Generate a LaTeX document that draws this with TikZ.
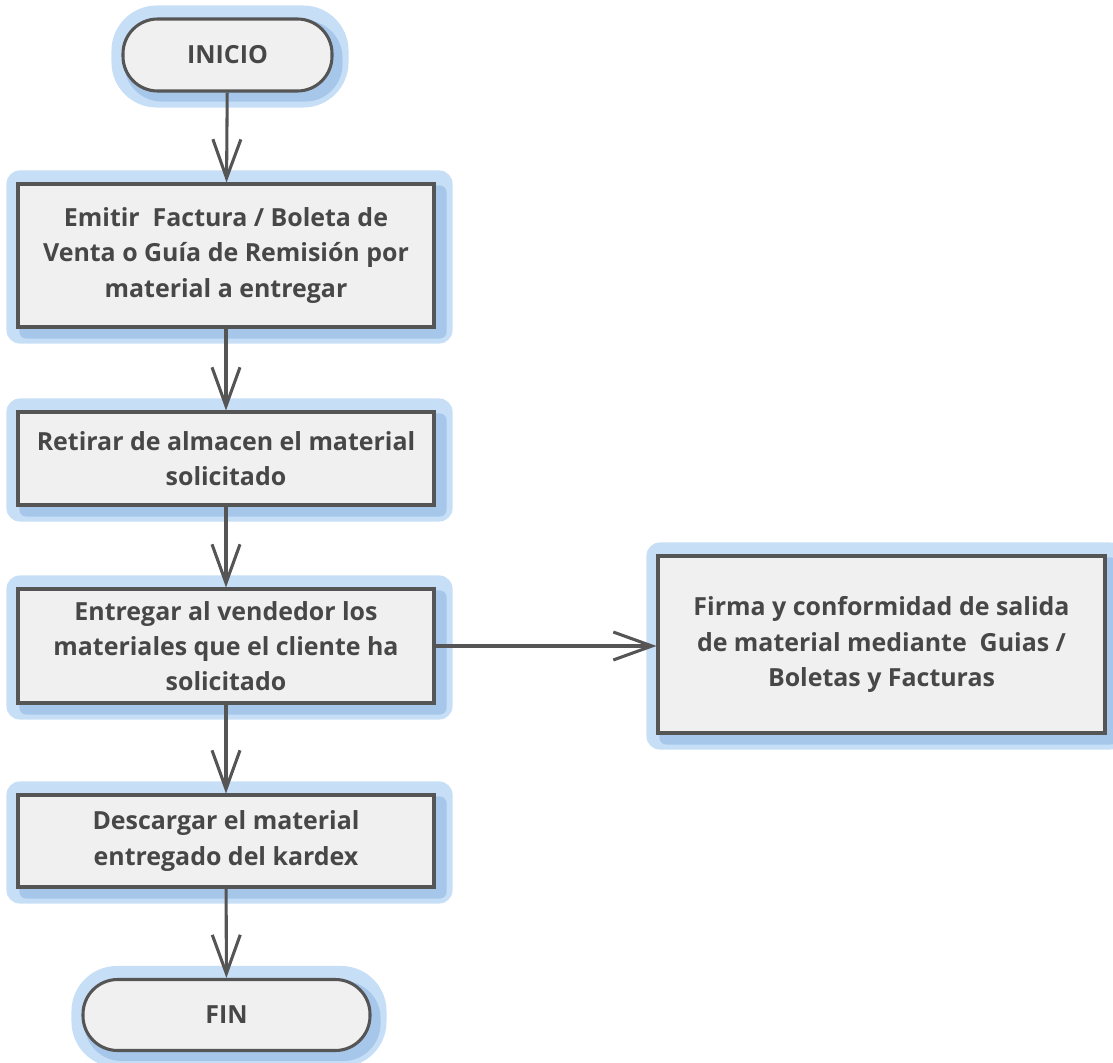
\documentclass[tikz,border=0pt]{standalone}
\usepackage{fontspec}
\setmainfont{Open Sans}
\usetikzlibrary{arrows.meta,backgrounds}
\definecolor{linegray}{HTML}{555555}
\definecolor{textgray}{HTML}{474747}
\definecolor{boxfill}{HTML}{F0F0F0}
\definecolor{glowA}{HTML}{C6DEF6}
\definecolor{glowB}{HTML}{A6C7EA}
\tikzset{
  base/.style={draw=linegray, line width=2.3pt, fill=boxfill, text=textgray,
    font=\bfseries\fontsize{18.7}{26.5}\selectfont, align=center, inner sep=0pt},
  procbox/.style={base, rectangle},
  termbox/.style={base, rectangle, rounded corners=26pt},
  conn/.style={draw=linegray, line width=2.3pt, -{Straight Barb[length=29pt,width=21pt]}},
}
\begin{document}
\begin{tikzpicture}[x=0.75pt,y=-0.75pt]
\useasboundingbox (0,0) rectangle (1113,1063);
\node[termbox, minimum width=156.75pt, minimum height=54pt] (ini) at (227.5,55) {INICIO};
\node[procbox, minimum width=312pt, minimum height=107.25pt] (b1) at (226,255.5)
  {Emitir\ \ Factura / Boleta de\\Venta o Guía de Remisión por\\material a entregar};
\node[procbox, minimum width=312pt, minimum height=69.75pt] (b2) at (226,458.5)
  {Retirar de almacen el material\\solicitado};
\node[procbox, minimum width=312pt, minimum height=85.5pt] (b3) at (226,646)
  {Entregar al vendedor los\\materiales que el cliente ha\\solicitado};
\node[procbox, minimum width=312pt, minimum height=69pt] (b4) at (226,841)
  {Descargar el material\\entregado del kardex};
\node[termbox, minimum width=215.25pt, minimum height=53.25pt] (fin) at (226.5,1015) {FIN};
\node[procbox, minimum width=335.25pt, minimum height=132.75pt] (r) at (881.5,644.5)
  {Firma y conformidad de salida\\de material mediante\ \ Guias /\\Boletas y Facturas};
\begin{scope}[on background layer]
  \foreach \n in {b1,b2,b3,b4,r}{
    \fill[glowA, rounded corners=10pt] ([shift={(-10,-12)}]\n.north west) rectangle ([shift={(17,15)}]\n.south east);
    \fill[glowB, rounded corners=5pt] ([shift={(3,3)}]\n.north west) rectangle ([shift={(11,10)}]\n.south east);
  }
  \foreach \n in {ini,fin}{
    \fill[glowA, rounded corners=34pt] ([shift={(-10,-12)}]\n.north west) rectangle ([shift={(15,15)}]\n.south east);
    \fill[glowB, rounded corners=28pt] ([shift={(3,3)}]\n.north west) rectangle ([shift={(9,9)}]\n.south east);
  }
\end{scope}
\draw[conn] (ini) -- (b1);
\draw[conn] (b1) -- (b2);
\draw[conn] (b2) -- (b3);
\draw[conn] (b3) -- (b4);
\draw[conn] (b4) -- (fin);
\draw[conn] (b3.east) -- (r.west |- b3.east);
\end{tikzpicture}
\end{document}
